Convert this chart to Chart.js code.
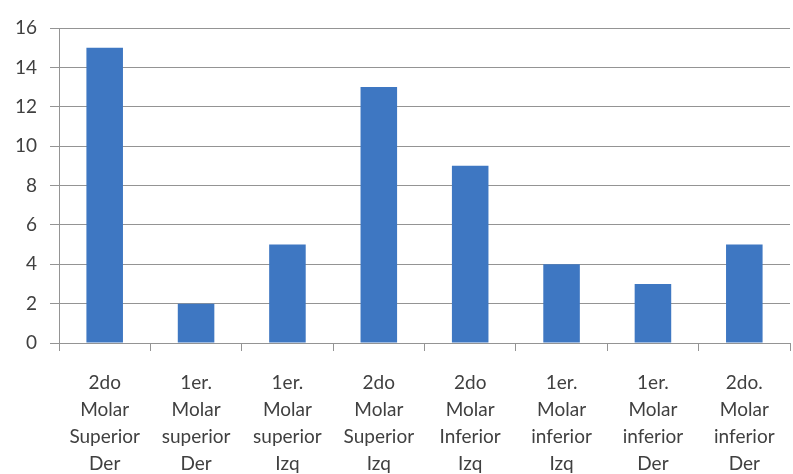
<!DOCTYPE html>
<html><head><meta charset="utf-8">
<script src="https://cdn.jsdelivr.net/npm/chart.js@4/dist/chart.umd.min.js"></script>
<style>html,body{margin:0;padding:0;background:#fff}#w{width:793px;height:474px}</style>
</head><body><div id="w"><canvas id="c"></canvas></div>
<script>
const categories = [
  ["2do","Molar","Superior","Der"],
  ["1er.","Molar","superior","Der"],
  ["1er.","Molar","superior","Izq"],
  ["2do","Molar","Superior","Izq"],
  ["2do","Molar","Inferior","Izq"],
  ["1er.","Molar","inferior","Izq"],
  ["1er.","Molar","inferior","Der"],
  ["2do.","Molar","inferior","Der"]
];
const values = [15, 2, 5, 13, 9, 4, 3, 5];
const yTicks = [0, 2, 4, 6, 8, 10, 12, 14, 16];

const gridCol = '#949494';
const txtCol = '#404040';
new Chart(document.getElementById('c'), {
  type: 'bar',
  data: { labels: categories, datasets: [{ data: values, backgroundColor: '#3e77c2', borderWidth: 0, categoryPercentage: 1, barPercentage: 0.4 }] },
  options: {
    responsive: true, maintainAspectRatio: false, animation: false,
    layout: { padding: { top: 28, right: 3, left: 0, bottom: 0 } },
    plugins: { legend: { display: false }, tooltip: { enabled: false } },
    scales: {
      x: {
        offset: true,
        grid: { offset: true, drawOnChartArea: false, drawTicks: true, tickLength: 8, color: gridCol },
        border: { color: gridCol },
        ticks: { color: txtCol, font: { family: 'Lato', size: 19, lineHeight: 1.42 }, padding: 18, maxRotation: 0, autoSkip: false },
        afterFit: s => { s.height = 131; }
      },
      y: {
        min: 0, max: 16,
        afterBuildTicks: s => { s.ticks = yTicks.map(v => ({ value: v })); },
        grid: { color: gridCol, tickLength: 9 },
        border: { color: gridCol },
        ticks: { color: txtCol, font: { family: 'Lato', size: 19 }, padding: 13 },
        afterFit: s => { s.width = 59; }
      }
    }
  }
});
</script>
</body></html>
